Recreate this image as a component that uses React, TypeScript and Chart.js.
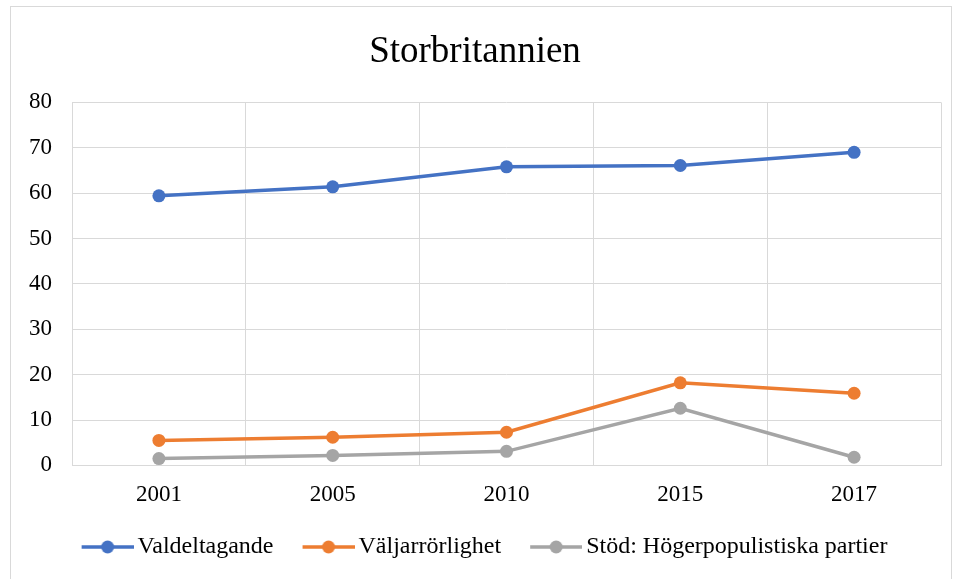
import React, { useEffect, useRef } from "react";
import { Chart, registerables } from "chart.js";

Chart.register(...registerables);

const title = "Storbritannien";
const years = ["2001", "2005", "2010", "2015", "2017"];
const valdeltagande = [59.4, 61.4, 65.8, 66.1, 69.0];
const valjarrorlighet = [5.5, 6.2, 7.3, 18.2, 15.9];
const stod = [1.5, 2.2, 3.1, 12.6, 1.8];
const seriesNames = ["Valdeltagande", "Väljarrörlighet", "Stöd: Högerpopulistiska partier"];
const seriesColors = ["#4472C4", "#ED7D31", "#A5A5A5"];

const FONT = "'Liberation Serif', 'Times New Roman', serif";
const LEG_PAD = 10;
const BOX_W = 63;
const ICON_EXTRA = 8;

function makeIcon(color: string): HTMLCanvasElement {
  const c = document.createElement("canvas");
  const w = BOX_W + ICON_EXTRA * 2;
  c.width = w;
  c.height = 16;
  const ctx = c.getContext("2d")!;
  ctx.strokeStyle = color;
  ctx.lineWidth = 3.5;
  ctx.beginPath();
  ctx.moveTo(w - 52, 8);
  ctx.lineTo(w, 8);
  ctx.stroke();
  ctx.fillStyle = color;
  ctx.beginPath();
  ctx.arc(w - 26, 8, 6.5, 0, Math.PI * 2);
  ctx.fill();
  return c;
}

export default function App() {
  const ref = useRef<HTMLCanvasElement | null>(null);
  useEffect(() => {
    document.body.style.margin = "0";
    const icons = seriesColors.map(makeIcon);
    const seriesData = [valdeltagande, valjarrorlighet, stod];
    const chart = new Chart(ref.current!, {
      type: "line",
      data: {
        labels: years,
        datasets: seriesData.map((d, i) => ({
          label: seriesNames[i],
          data: d,
          borderColor: seriesColors[i],
          backgroundColor: seriesColors[i],
          borderWidth: 3.5,
          pointRadius: 6.5,
          pointHoverRadius: 6.5,
          pointBorderWidth: 0,
          tension: 0,
        })),
      },
      options: {
        animation: false,
        responsive: false,
        devicePixelRatio: 1,
        layout: { padding: { left: 9, right: 19, top: 26, bottom: 10 } },
        plugins: {
          title: {
            display: true,
            text: title,
            color: "#000",
            font: { family: FONT, size: 37, weight: "normal" },
            padding: { top: 4, bottom: 28 },
          },
          legend: {
            position: "bottom",
            labels: {
              usePointStyle: true,
              pointStyleWidth: BOX_W,
              color: "#000",
              font: { family: FONT, size: 24 },
              padding: LEG_PAD,
              generateLabels: () =>
                seriesNames.map((n, i) => ({
                  text: n,
                  pointStyle: icons[i],
                  fillStyle: seriesColors[i],
                  strokeStyle: seriesColors[i],
                  lineWidth: 0,
                  datasetIndex: i,
                  hidden: false,
                })),
            },
          },
          tooltip: { enabled: false },
        },
        scales: {
          x: {
            offset: true,
            grid: { color: "#d9d9d9", lineWidth: 1, offset: true, drawTicks: false },
            border: { color: "#d9d9d9", width: 1 },
            ticks: { color: "#000", font: { family: FONT, size: 23 }, padding: 16 },
          },
          y: {
            min: 0,
            max: 80,
            grid: { color: "#d9d9d9", lineWidth: 1, drawTicks: false },
            border: { display: false },
            ticks: { stepSize: 10, color: "#000", font: { family: FONT, size: 23 }, padding: 20 },
          },
        },
      },
    });
    return () => chart.destroy();
  }, []);
  return (
    <div style={{ position: "absolute", left: 0, top: 0, width: 960, height: 579, background: "#fff" }}>
      <canvas ref={ref} width={960} height={579} style={{ position: "absolute", left: 0, top: 0 }} />
      <div
        style={{
          position: "absolute",
          left: 10,
          top: 6,
          width: 940,
          height: 590,
          border: "1px solid #d9d9d9",
          pointerEvents: "none",
        }}
      />
    </div>
  );
}
